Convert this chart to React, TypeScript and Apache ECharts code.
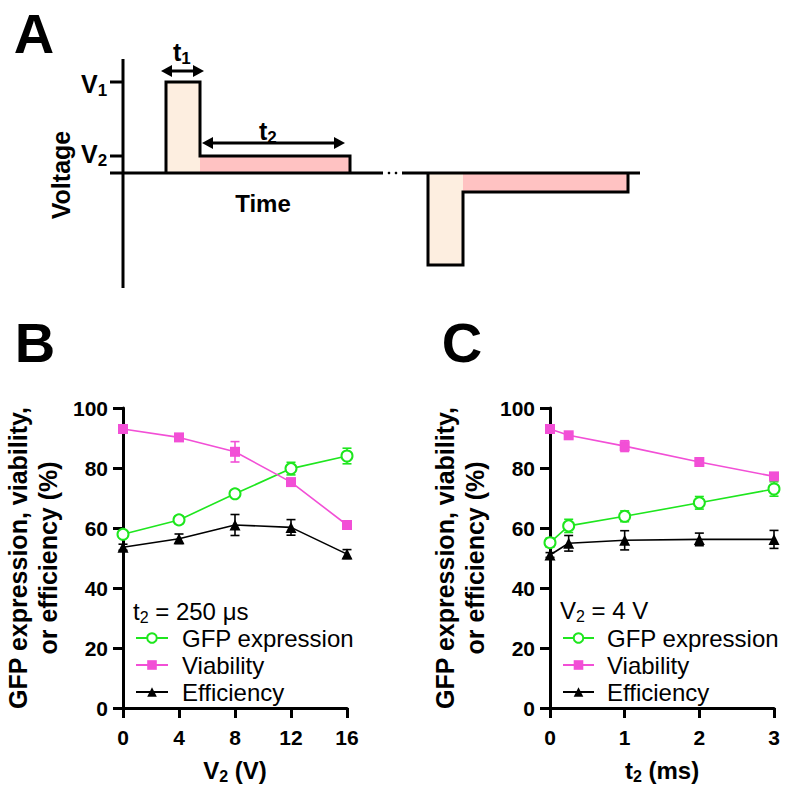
import React, { useEffect, useRef } from 'react';
import * as echarts from 'echarts';

// Panel B: varying V2 (t2 = 250 us)
const v2Values = [0, 4, 8, 12, 16];
const v2Gfp = [57.9, 62.7, 71.4, 79.8, 84.0];
const v2GfpErr = [1.2, 1.3, 1.0, 2.1, 2.6];
const v2Viability = [93.0, 90.2, 85.4, 75.3, 61.0];
const v2ViabilityErr = [0.8, 0.8, 3.4, 1.0, 1.2];
const v2Efficiency = [53.6, 56.4, 61.0, 60.2, 51.3];
const v2EfficiencyErr = [1.0, 1.6, 3.5, 2.6, 1.5];
const v2Ticks = [0, 4, 8, 12, 16];

// Panel C: varying t2 (V2 = 4 V)
const t2Values = [0, 0.25, 1, 2, 3];
const t2Gfp = [55.1, 60.7, 63.9, 68.4, 73.0];
const t2GfpErr = [1.5, 2.2, 1.8, 2.1, 2.4];
const t2Viability = [93.0, 90.9, 87.3, 82.0, 77.2];
const t2ViabilityErr = [0.8, 0.8, 1.8, 0.8, 0.8];
const t2Efficiency = [51.0, 54.9, 55.9, 56.2, 56.2];
const t2EfficiencyErr = [0.8, 2.6, 3.2, 2.1, 3.0];
const t2Ticks = [0, 1, 2, 3];

const yTicks = [0, 20, 40, 60, 80, 100];
const seriesNames = ['GFP expression', 'Viability', 'Efficiency'];

const FONT = '"Liberation Sans", Arial, sans-serif';
const GREEN = '#1ee61e';
const PINK = '#f24fd6';
const BLACK = '#000000';
const PEACH = '#fdeee0';
const ROSE = '#ffc2c2';

function pairs(xs: number[], ys: number[]) {
  return xs.map((x, i) => [x, ys[i]]);
}
function errPairs(xs: number[], ys: number[], es: number[]) {
  return xs.map((x, i) => [x, ys[i] - es[i], ys[i] + es[i]]);
}

function errorSeries(name: string, idx: number, data: number[][], color: string) {
  return {
    type: 'custom',
    name,
    xAxisIndex: idx,
    yAxisIndex: idx,
    encode: { x: 0, y: [1, 2] },
    z: 1,
    silent: true,
    data,
    renderItem: (params: any, api: any) => {
      const x = api.value(0);
      const lo = api.coord([x, api.value(1)]);
      const hi = api.coord([x, api.value(2)]);
      const w = 4.5;
      const style = { stroke: color, lineWidth: 1.6 };
      return {
        type: 'group',
        children: [
          { type: 'line', shape: { x1: lo[0], y1: lo[1], x2: hi[0], y2: hi[1] }, style },
          { type: 'line', shape: { x1: lo[0] - w, y1: lo[1], x2: lo[0] + w, y2: lo[1] }, style },
          { type: 'line', shape: { x1: hi[0] - w, y1: hi[1], x2: hi[0] + w, y2: hi[1] }, style },
        ],
      };
    },
  };
}

function lineSeries(name: string, idx: number, data: number[][], color: string, kind: string) {
  const base: any = {
    type: 'line',
    name,
    xAxisIndex: idx,
    yAxisIndex: idx,
    data,
    clip: false,
    z: 3,
    lineStyle: { color, width: 1.6 },
    itemStyle: { color },
  };
  if (kind === 'circle') {
    base.symbol = 'emptyCircle';
    base.symbolSize = 11;
    base.itemStyle = { color, borderColor: color, borderWidth: 2.6 };
  } else if (kind === 'rect') {
    base.symbol = 'rect';
    base.symbolSize = 10;
  } else {
    base.symbol = 'triangle';
    base.symbolSize = 11;
  }
  return base;
}

const sub = (main: number, s: number, pad: number, bold: boolean) => ({
  n: { fontSize: main, fontFamily: FONT, fontWeight: bold ? 'bold' : 'normal', color: '#000', lineHeight: main },
  s: { fontSize: s, fontFamily: FONT, fontWeight: bold ? 'bold' : 'normal', color: '#000', padding: [pad, 0, 0, 0] },
});

function xAxisCfg(idx: number, max: number, interval: number, name: string) {
  return {
    type: 'value',
    gridIndex: idx,
    min: 0,
    max,
    interval,
    name,
    nameLocation: 'middle',
    nameGap: 48,
    nameTextStyle: { rich: sub(24, 16, 12, true) },
    axisLine: { show: true, lineStyle: { color: '#000', width: 3 } },
    axisTick: { show: true, length: 10, lineStyle: { color: '#000', width: 3 } },
    axisLabel: { fontSize: 21, fontWeight: 'bold', fontFamily: FONT, color: '#000', margin: 19 },
    splitLine: { show: false },
  };
}

function yAxisCfg(idx: number) {
  return {
    type: 'value',
    gridIndex: idx,
    min: yTicks[0],
    max: yTicks[yTicks.length - 1],
    interval: 20,
    name: 'GFP expression, viability,\nor efficiency (%)',
    nameLocation: 'middle',
    nameGap: 60,
    nameTextStyle: { fontSize: 25, fontWeight: 'bold', fontFamily: FONT, color: '#000', lineHeight: 30 },
    axisLine: { show: true, lineStyle: { color: '#000', width: 3 } },
    axisTick: { show: true, length: 10, lineStyle: { color: '#000', width: 3 } },
    axisLabel: { fontSize: 21, fontWeight: 'bold', fontFamily: FONT, color: '#000', margin: 15 },
    splitLine: { show: false },
  };
}

function legendCfg(left: number, pad: number, itemWidth: number) {
  return {
    data: seriesNames,
    orient: 'vertical',
    left,
    top: 621,
    itemWidth,
    itemHeight: 12,
    itemGap: 3,
    selectedMode: false,
    textStyle: { fontSize: 24, fontFamily: FONT, color: '#000', lineHeight: 24, padding: [0, 0, 0, pad] },
  };
}

function richText(x: number, y: number, text: string, rich: any, align = 'left') {
  return {
    type: 'text',
    x,
    y,
    style: { text, rich, align, verticalAlign: 'middle' },
  };
}

function panelA() {
  const stroke = { stroke: '#000', lineWidth: 3, fill: 'none' };
  const line = (x1: number, y1: number, x2: number, y2: number, w = 3) => ({
    type: 'line',
    shape: { x1, y1, x2, y2 },
    style: { stroke: '#000', lineWidth: w },
  });
  const head = (tipX: number, y: number, dir: number) => ({
    type: 'polygon',
    shape: { points: [[tipX, y], [tipX + dir * 11, y - 6], [tipX + dir * 11, y + 6]] },
    style: { fill: '#000' },
  });
  return [
    // fills
    { type: 'rect', shape: { x: 166, y: 82, width: 34, height: 91 }, style: { fill: PEACH } },
    { type: 'rect', shape: { x: 200, y: 156, width: 150, height: 17 }, style: { fill: ROSE } },
    { type: 'rect', shape: { x: 428, y: 173, width: 35, height: 92 }, style: { fill: PEACH } },
    { type: 'rect', shape: { x: 463, y: 173, width: 165, height: 19 }, style: { fill: ROSE } },
    // axes
    line(123, 59, 123, 288),
    line(110, 82, 123, 82),
    line(110, 156, 123, 156),
    line(110, 173, 383, 173),
    line(402, 173, 640, 173),
    { type: 'circle', shape: { cx: 389, cy: 173, r: 1.3 }, style: { fill: '#000' } },
    { type: 'circle', shape: { cx: 396, cy: 173, r: 1.3 }, style: { fill: '#000' } },
    // pulse outlines
    { type: 'polyline', shape: { points: [[166, 173], [166, 82], [200, 82], [200, 156], [350, 156], [350, 173]] }, style: stroke },
    { type: 'polyline', shape: { points: [[428, 173], [428, 265], [463, 265], [463, 192], [628, 192], [628, 173]] }, style: stroke },
    // arrows
    line(168, 71, 197, 71),
    head(161, 71, 1),
    head(204, 71, -1),
    line(210, 143, 338, 143),
    head(202, 143, 1),
    head(345, 143, -1),
    // labels
    richText(81, 84, '{n|V}{s|1}', sub(25, 17, 13, true)),
    richText(81, 154, '{n|V}{s|2}', sub(25, 17, 13, true)),
    richText(173, 52, '{n|t}{s|1}', sub(25, 17, 13, true)),
    richText(259, 131, '{n|t}{s|2}', sub(25, 17, 13, true)),
    {
      type: 'text',
      x: 61,
      y: 175,
      rotation: Math.PI / 2,
      style: { text: 'Voltage', font: `bold 25px ${FONT}`, fill: '#000', align: 'center', verticalAlign: 'middle' },
    },
    {
      type: 'text',
      x: 263,
      y: 203,
      style: { text: 'Time', font: `bold 24px ${FONT}`, fill: '#000', align: 'center', verticalAlign: 'middle' },
    },
  ];
}

function letters() {
  const L = (t: string, x: number, y: number) => ({
    type: 'text',
    x,
    y,
    style: { text: t, font: `bold 56px ${FONT}`, fill: '#000', align: 'center', verticalAlign: 'middle' },
  });
  return [L('A', 34, 33), L('B', 35, 342), L('C', 462, 342)];
}

export default function App() {
  const ref = useRef<HTMLDivElement>(null);
  useEffect(() => {
    if (!ref.current) return;
    const chart = echarts.init(ref.current, null, { renderer: 'svg' });
    const option: any = {
      animation: false,
      backgroundColor: '#ffffff',
      grid: [
        { left: 123, top: 408, width: 224, height: 300 },
        { left: 550, top: 408, width: 224, height: 300 },
      ],
      xAxis: [
        xAxisCfg(0, v2Ticks[v2Ticks.length - 1], 4, '{n|V}{s|2}{n| (V)}'),
        xAxisCfg(1, t2Ticks[t2Ticks.length - 1], 1, '{n|t}{s|2}{n| (ms)}'),
      ],
      yAxis: [yAxisCfg(0), yAxisCfg(1)],
      legend: [legendCfg(130, 9, 32), legendCfg(557, 8, 31)],
      series: [
        errorSeries('errB-gfp', 0, errPairs(v2Values, v2Gfp, v2GfpErr), GREEN),
        errorSeries('errB-via', 0, errPairs(v2Values, v2Viability, v2ViabilityErr), PINK),
        errorSeries('errB-eff', 0, errPairs(v2Values, v2Efficiency, v2EfficiencyErr), BLACK),
        errorSeries('errC-gfp', 1, errPairs(t2Values, t2Gfp, t2GfpErr), GREEN),
        errorSeries('errC-via', 1, errPairs(t2Values, t2Viability, t2ViabilityErr), PINK),
        errorSeries('errC-eff', 1, errPairs(t2Values, t2Efficiency, t2EfficiencyErr), BLACK),
        lineSeries(seriesNames[0], 0, pairs(v2Values, v2Gfp), GREEN, 'circle'),
        lineSeries(seriesNames[1], 0, pairs(v2Values, v2Viability), PINK, 'rect'),
        lineSeries(seriesNames[2], 0, pairs(v2Values, v2Efficiency), BLACK, 'triangle'),
        lineSeries(seriesNames[0], 1, pairs(t2Values, t2Gfp), GREEN, 'circle'),
        lineSeries(seriesNames[1], 1, pairs(t2Values, t2Viability), PINK, 'rect'),
        lineSeries(seriesNames[2], 1, pairs(t2Values, t2Efficiency), BLACK, 'triangle'),
      ],
      graphic: [
        ...panelA(),
        ...letters(),
        richText(133, 611, '{n|t}{s|2}{n| = 250 μs}', sub(24, 16, 12, false)),
        richText(560, 610, '{n|V}{s|2}{n| = 4 V}', sub(24, 16, 12, false)),
      ],
    };
    chart.setOption(option);
    return () => chart.dispose();
  }, []);
  return <div ref={ref} style={{ position: 'absolute', left: 0, top: 0, width: 786, height: 794 }} />;
}
